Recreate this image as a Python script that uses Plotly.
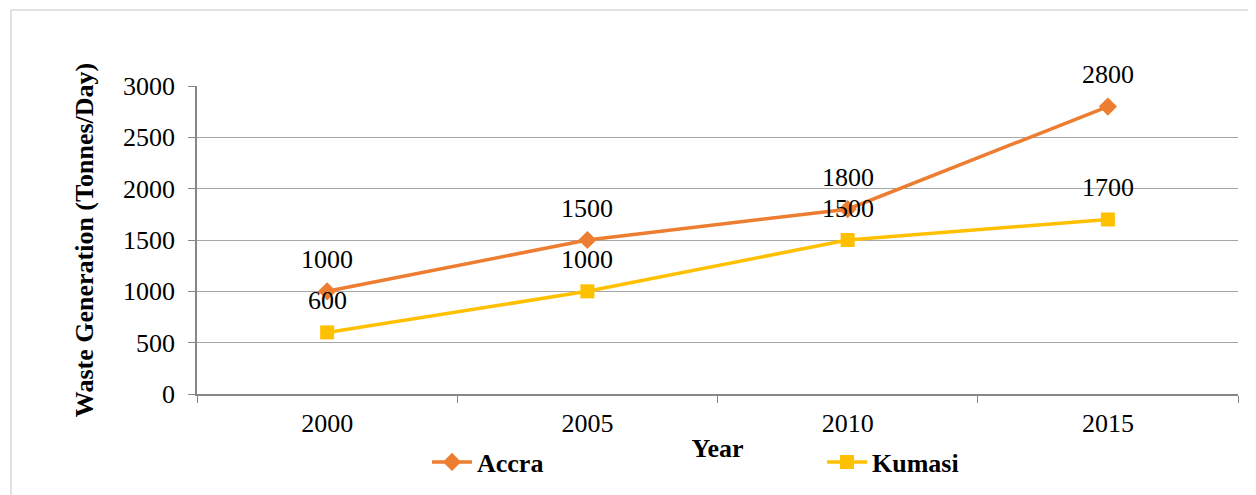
import plotly.graph_objects as go

years = ["2000", "2005", "2010", "2015"]
accra = [1000, 1500, 1800, 2800]
kumasi = [600, 1000, 1500, 1700]
y_ticks = [0, 500, 1000, 1500, 2000, 2500, 3000]

FONT = "Liberation Serif, Times New Roman, serif"
ORANGE = "#ED7D31"
GOLD = "#FFC000"
FS = 26

fig = go.Figure()
fig.add_trace(go.Scatter(x=years, y=accra, name="<b>Accra</b>", mode="lines+markers",
                         line=dict(color=ORANGE, width=3.5),
                         marker=dict(symbol="diamond", size=14, color=ORANGE)))
fig.add_trace(go.Scatter(x=years, y=kumasi, name="<b>Kumasi</b>", mode="lines+markers",
                         line=dict(color=GOLD, width=3.5),
                         marker=dict(symbol="square", size=14, color=GOLD)))

for series in (accra, kumasi):
    for i, yv in enumerate(series):
        fig.add_annotation(x=i, y=yv, text=str(yv), showarrow=False, yshift=32,
                           font=dict(family=FONT, size=FS, color="#000000"))

# page body adds an 8px offset
W, H = 1248, 487
L, T = 189, 78
R = W - 1230
B = H - 386
pw, ph = W - L - R, H - T - B
fig.add_shape(type="rect", xref="paper", yref="paper",
              x0=(3 - L) / pw, x1=(W + 10 - L) / pw,
              y0=-(H + 10 - (H - B)) / ph, y1=1 + (T - 2) / ph,
              line=dict(color="#D9D9D9", width=1.5), layer="below")

fig.update_layout(
    width=W, height=H,
    margin=dict(l=L, r=R, t=T, b=B, autoexpand=False),
    paper_bgcolor="white", plot_bgcolor="rgba(0,0,0,0)",
    font=dict(family=FONT, size=FS, color="#000000"),
    showlegend=True,
    legend=dict(orientation="h", x=(427 - 8 - L) / pw, xanchor="left",
                y=(386 - 454) / ph, yanchor="middle",
                entrywidth=340, entrywidthmode="pixels",
                bgcolor="rgba(0,0,0,0)",
                font=dict(family=FONT, size=FS, color="#000000"),
                itemwidth=40, tracegroupgap=0),
)
fig.update_xaxes(type="category", range=[-0.5, 3.5], tickson="boundaries",
                 ticks="outside", ticklen=7, tickcolor="#868686",
                 showline=True, linecolor="#868686", linewidth=1.5,
                 showgrid=False, tickfont=dict(family=FONT, size=FS),
                 ticklabelstandoff=5, automargin=False,
                 title=dict(text="<b>Year</b>", standoff=2,
                            font=dict(family=FONT, size=FS)))
fig.update_yaxes(range=[0, 3000], tickvals=y_ticks, ticks="outside", ticklen=7,
                 tickcolor="#868686", showline=True, linecolor="#868686", linewidth=1.5,
                 showgrid=True, gridcolor="#A6A6A6", gridwidth=1, zeroline=False,
                 tickfont=dict(family=FONT, size=FS), automargin=False,
                 ticklabelstandoff=8,
                 title=dict(text="<b>Waste Generation (Tonnes/Day)</b>", standoff=22,
                            font=dict(family=FONT, size=FS)))

fig.write_html("out.html")
